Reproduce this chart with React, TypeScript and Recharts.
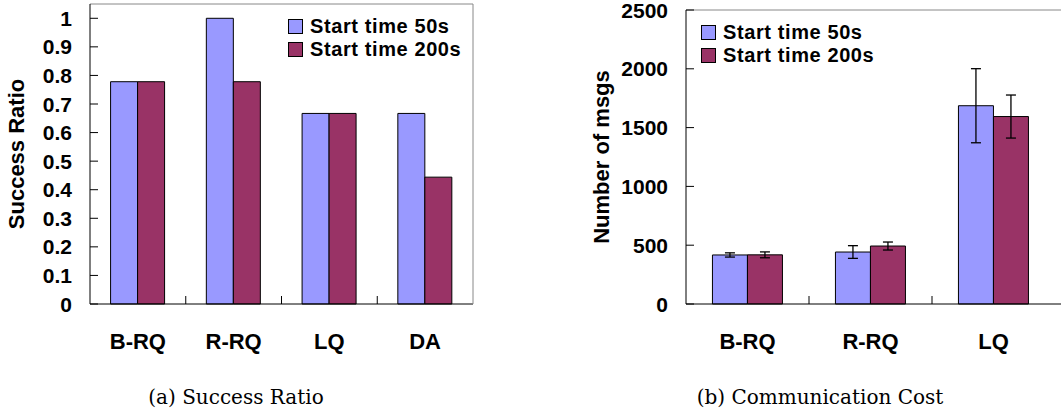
import React from "react";
import { BarChart, Bar, XAxis, YAxis, Legend, ErrorBar } from "recharts";

const categories = ["B-RQ", "R-RQ", "LQ", "DA"];

// (a) success ratio
const ratio50 = [0.778, 1.0, 0.667, 0.667];
const ratio200 = [0.778, 0.778, 0.667, 0.444];
const ratioTicks = [0, 0.1, 0.2, 0.3, 0.4, 0.5, 0.6, 0.7, 0.8, 0.9, 1];

// (b) communication cost -- DA group is cut off in the source image
const msgs50 = [417, 442, 1686, null];
const msgs200 = [418, 493, 1594, null];
const msgs50Err = [18, 54, 315, null];
const msgs200Err = [25, 34, 183, null];
const msgsTicks = [0, 500, 1000, 1500, 2000, 2500];

const seriesNames = ["Start time 50s", "Start time 200s"];
const BLUE = "#9999ff";
const RED = "#993366";
const SANS = "'Liberation Sans', Arial, sans-serif";
const SERIF = "'DejaVu Serif', serif";

const ratioData = categories.map((c, i) => ({ name: c, s50: ratio50[i], s200: ratio200[i] }));
const msgsData = categories.map((c, i) => ({
  name: c,
  s50: msgs50[i],
  s200: msgs200[i],
  e50: msgs50Err[i],
  e200: msgs200Err[i],
}));

function YTick(props: any) {
  const { x, y, payload } = props;
  return (
    <g>
      <line x1={x} x2={x + 8} y1={y} y2={y} stroke="#000" />
      <text x={x - 18} y={y} dy="0.36em" textAnchor="end" fontSize={21} fontWeight="bold" fontFamily={SANS} fill="#000">
        {String(payload.value)}
      </text>
    </g>
  );
}

function XTick(props: any) {
  const { x, y, payload, index, band, shown } = props;
  if (index >= shown) return <g />;
  return (
    <g>
      {index < shown - 1 && <line x1={x + band / 2} x2={x + band / 2} y1={y} y2={y - 8} stroke="#000" />}
      <text x={x} y={y + 37} dy="0.36em" textAnchor="middle" fontSize={22} fontWeight="bold" fontFamily={SANS} fill="#000">
        {payload.value}
      </text>
    </g>
  );
}

function LegendBox(props: any) {
  const { payload, rowH } = props;
  const items = [...(payload || [])].sort(
    (a: any, b: any) => seriesNames.indexOf(a.value) - seriesNames.indexOf(b.value)
  );
  return (
    <div style={{ fontFamily: SANS, fontWeight: "bold", fontSize: 20, letterSpacing: "0.6px", color: "#000" }}>
      {items.map((p: any) => (
        <div key={p.value} style={{ display: "flex", alignItems: "center", height: rowH, lineHeight: rowH + "px", whiteSpace: "nowrap" }}>
          <span style={{ display: "inline-block", width: 13, height: 13, background: p.color, border: "1px solid #000", marginRight: 7 }} />
          {p.value}
        </div>
      ))}
    </div>
  );
}

function Panel(props: any) {
  const { data, left, width, margin, domain, ticks, legendPos, rowH, errors, shown, frameRight } = props;
  // axes take 1px each (a 0px axis is not drawn)
  const plotW = width - margin.left - margin.right - (frameRight ? 2 : 1);
  const band = plotW / categories.length;
  return (
    <div style={{ position: "absolute", left, top: 0 }}>
      <BarChart width={width} height={360} data={data} margin={margin} barCategoryGap="21.5%" barGap={0}>
        <XAxis
          dataKey="name"
          height={1}
          interval={0}
          tickSize={0}
          tickMargin={0}
          tickLine={false}
          axisLine={{ stroke: "#000" }}
          tick={(p: any) => <XTick {...p} band={band} shown={shown} />}
        />
        <XAxis xAxisId="top" dataKey="name" orientation="top" height={1} tick={false} tickLine={false} axisLine={{ stroke: "#888" }} />
        <YAxis
          width={1}
          domain={domain}
          ticks={ticks}
          interval={0}
          tickSize={0}
          tickMargin={0}
          tickLine={false}
          axisLine={{ stroke: "#000" }}
          tick={<YTick />}
        />
        {frameRight && (
          <YAxis yAxisId="right" orientation="right" width={1} tick={false} tickLine={false} axisLine={{ stroke: "#888" }} />
        )}
        <Legend
          layout="vertical"
          align="center"
          verticalAlign="middle"
          wrapperStyle={{ top: legendPos.top, left: legendPos.left, width: "auto" }}
          content={(p: any) => <LegendBox payload={p.payload} rowH={rowH} />}
        />
        <Bar dataKey="s50" name={seriesNames[0]} fill={BLUE} stroke="#000" strokeWidth={1} isAnimationActive={false}>
          {errors && <ErrorBar dataKey="e50" width={5} stroke="#000" strokeWidth={1.3} direction="y" />}
        </Bar>
        <Bar dataKey="s200" name={seriesNames[1]} fill={RED} stroke="#000" strokeWidth={1} isAnimationActive={false}>
          {errors && <ErrorBar dataKey="e200" width={5} stroke="#000" strokeWidth={1.3} direction="y" />}
        </Bar>
      </BarChart>
    </div>
  );
}

function Rotated(props: any) {
  const { cx, cy, children } = props;
  return (
    <div
      style={{
        position: "absolute",
        left: cx,
        top: cy,
        transform: "translate(-50%, -50%) rotate(-90deg)",
        whiteSpace: "nowrap",
        fontFamily: SANS,
        fontWeight: "bold",
        fontSize: 22,
        color: "#000",
      }}
    >
      {children}
    </div>
  );
}

function Caption(props: any) {
  const { cx, cy, children } = props;
  return (
    <div
      style={{
        position: "absolute",
        left: cx,
        top: cy,
        transform: "translate(-50%, -50%)",
        whiteSpace: "nowrap",
        fontFamily: SERIF,
        fontSize: 20,
        color: "#000",
      }}
    >
      {children}
    </div>
  );
}

export default function App() {
  return (
    <div style={{ position: "fixed", left: 0, top: 0, width: 1061, height: 412, overflow: "hidden", background: "#fff" }}>
      <Panel
        data={ratioData}
        left={0}
        width={500}
        margin={{ top: 3, right: 26, bottom: 55, left: 89 }}
        domain={[0, 1.05]}
        ticks={ratioTicks}
        legendPos={{ top: 15, left: 288 }}
        rowH={23}
        errors={false}
        shown={4}
        frameRight={true}
      />
      <Panel
        data={msgsData}
        left={530}
        width={675}
        margin={{ top: 9, right: 27, bottom: 55, left: 155 }}
        domain={[0, 2500]}
        ticks={msgsTicks}
        legendPos={{ top: 21, left: 171 }}
        rowH={23}
        errors={true}
        shown={3}
        frameRight={false}
      />
      <Rotated cx={17} cy={154}>Success Ratio</Rotated>
      <Rotated cx={602} cy={157}>Number of msgs</Rotated>
      <Caption cx={236} cy={397}>(a) Success Ratio</Caption>
      <Caption cx={820} cy={397}>(b) Communication Cost</Caption>
    </div>
  );
}
